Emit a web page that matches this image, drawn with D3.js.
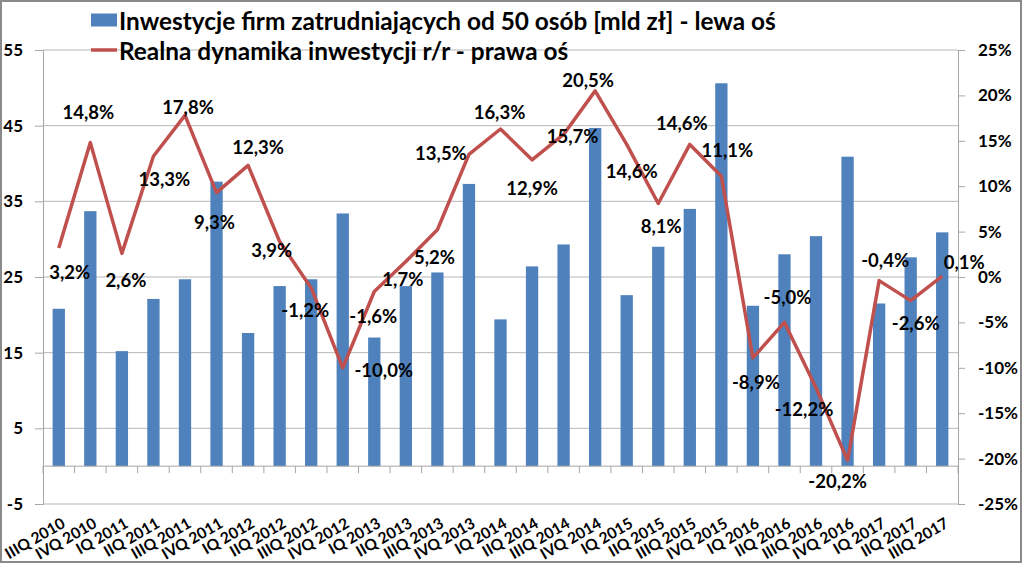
<!DOCTYPE html>
<html>
<head>
<meta charset="utf-8">
<script src="https://cdn.jsdelivr.net/npm/d3@7"></script>
<style>
  html, body { margin: 0; padding: 0; background: #fff; }
  svg { display: block; }
  text { font-family: Lato, "Open Sans", sans-serif; font-weight: 700; fill: #000; }
</style>
</head>
<body>
<svg id="chart" width="1023" height="564"></svg>
<script>
// ---- data ----
const categories = ["IIIQ 2010","IVQ 2010","IQ 2011","IIQ 2011","IIIQ 2011","IVQ 2011",
  "IQ 2012","IIQ 2012","IIIQ 2012","IVQ 2012","IQ 2013","IIQ 2013","IIIQ 2013","IVQ 2013",
  "IQ 2014","IIQ 2014","IIIQ 2014","IVQ 2014","IQ 2015","IIQ 2015","IIIQ 2015","IVQ 2015",
  "IQ 2016","IIQ 2016","IIIQ 2016","IVQ 2016","IQ 2017","IIQ 2017","IIIQ 2017"];
const investments = [20.8,33.7,15.2,22.1,24.7,37.6,17.6,23.8,24.7,33.4,17.0,23.8,25.6,37.3,
  19.4,26.4,29.3,44.7,22.6,29.0,34.0,50.6,21.2,28.0,30.4,40.9,21.5,27.6,30.9];
const dynamics = [3.2,14.8,2.6,13.3,17.8,9.3,12.3,3.9,-1.2,-10.0,-1.6,1.7,5.2,13.5,16.3,12.9,
  15.7,20.5,14.6,8.1,14.6,11.1,-8.9,-5.0,-12.2,-20.2,-0.4,-2.6,0.1];
const leftTicks = [55,45,35,25,15,5,-5];
const rightTicks = [25,20,15,10,5,0,-5,-10,-15,-20,-25];
const legendLabels = ["Inwestycje firm zatrudniających od 50 osób [mld zł] - lewa oś",
  "Realna dynamika inwestycji r/r - prawa oś"];

// ---- layout (label offsets relative to points, px) ----
const labelOffsets = [[11,24],[-2,-31],[4,27],[11,23],[3,-8],[-2,29],[10,-18],[-8,8],[-6,22],
  [41,2],[-1,24],[-3,17],[-3,27],[-28,-1],[-1,-17],[0,28],[9,2],[-7,-11],[5,27],[3,23],
  [-8,-21],[6,-26],[3,24],[3,-25],[-12,21],[-10,21],[6,-21],[5,22],[22,-14]];

const BLUE = "#4f81bd", RED = "#c0504d", GRID = "#b7b7b7", AXIS = "#a6a6a6";
const svg = d3.select("#chart");
const L = 43, R = 958, T = 50, B = 504;

svg.append("rect").attr("x",0).attr("y",0).attr("width",1023).attr("height",564).attr("fill","#fff");

const x = d3.scaleBand().domain(categories).range([L, R]).padding(0);
const xBar = d3.scaleBand().domain(categories).range([L, R]).paddingInner(0.61).paddingOuter(0.305);
const yL = d3.scaleLinear().domain([-5, 55]).range([B, T]);
const yR = d3.scaleLinear().domain([-25, 25]).range([B, T]);
const cx = c => x(c) + x.bandwidth() / 2;

// gridlines
svg.append("g").selectAll("line").data(leftTicks).join("line")
  .attr("x1", L).attr("x2", R).attr("y1", d => yL(d)).attr("y2", d => yL(d))
  .attr("stroke", GRID).attr("stroke-width", 1);

// left axis
const gl = svg.append("g").attr("transform", `translate(${L},0)`)
  .call(d3.axisLeft(yL).tickValues(leftTicks).tickSize(8).tickPadding(12).tickFormat(d => String(d)));
gl.select(".domain").attr("stroke", AXIS);
gl.selectAll(".tick line").attr("stroke", AXIS);
gl.selectAll(".tick text").style("font-size", "17px").attr("fill", "#000")
  .style("font-family", "Lato").style("font-weight", 700);

// right axis
const gr = svg.append("g").attr("transform", `translate(${R},0)`)
  .call(d3.axisRight(yR).tickValues(rightTicks).tickSize(7).tickPadding(13).tickFormat(d => String(d) + "%"));
gr.select(".domain").attr("stroke", AXIS);
gr.selectAll(".tick line").attr("stroke", AXIS);
gr.selectAll(".tick text").style("font-size", "17px").attr("fill", "#000")
  .style("font-family", "Lato").style("font-weight", 700);

// bars
svg.append("g").selectAll("rect").data(categories).join("rect")
  .attr("x", c => xBar(c)).attr("width", xBar.bandwidth())
  .attr("y", (c, i) => yL(Math.max(0, investments[i])))
  .attr("height", (c, i) => Math.abs(yL(investments[i]) - yL(0)))
  .attr("fill", BLUE);

// category axis at 0
const y0 = yL(0);
svg.append("line").attr("x1", L).attr("x2", R).attr("y1", y0).attr("y2", y0)
  .attr("stroke", AXIS).attr("stroke-width", 1);
const bounds = categories.map(c => x(c)).concat([R]);
svg.append("g").selectAll("line").data(bounds).join("line")
  .attr("x1", d => d).attr("x2", d => d).attr("y1", y0).attr("y2", y0 + 7)
  .attr("stroke", AXIS);

// category labels
svg.append("g").selectAll("text").data(categories).join("text")
  .attr("transform", c => `translate(${cx(c) + 2},${517}) rotate(-30)`)
  .attr("text-anchor", "end").attr("dy", "0.7em")
  .style("font-size", "15.5px").text(c => c);

// line
const line = d3.line().x((d, i) => cx(categories[i])).y(d => yR(d));
svg.append("path").datum(dynamics).attr("d", line)
  .attr("fill", "none").attr("stroke", RED).attr("stroke-width", 3.5)
  .attr("stroke-linejoin", "round");

// data labels
const fmt = v => v.toFixed(1).replace(".", ",") + "%";
svg.append("g").selectAll("text").data(dynamics).join("text")
  .attr("x", (d, i) => cx(categories[i]) + labelOffsets[i][0])
  .attr("y", (d, i) => yR(d) + labelOffsets[i][1])
  .attr("text-anchor", "middle").attr("dominant-baseline", "central")
  .style("font-size", "18.5px").text(fmt);

// legend
svg.append("rect").attr("x", 91).attr("y", 13.5).attr("width", 26).attr("height", 13).attr("fill", BLUE);
svg.append("line").attr("x1", 91).attr("x2", 117).attr("y1", 50).attr("y2", 50)
  .attr("stroke", RED).attr("stroke-width", 3.5);
const lt = svg.append("g").selectAll("text").data(legendLabels).join("text")
  .attr("x", 119).attr("y", (d, i) => i === 0 ? 20 : 50)
  .attr("dominant-baseline", "central").style("font-size", "24px").text(d => d);
const w0 = lt.nodes()[0].getComputedTextLength();
const fs = 24 * 657 / w0;
lt.style("font-size", fs + "px");

// outer border
svg.append("rect").attr("x", 1).attr("y", 1).attr("width", 1020).attr("height", 561)
  .attr("fill", "none").attr("stroke", "#8a8a8a").attr("stroke-width", 2);
</script>
</body>
</html>
